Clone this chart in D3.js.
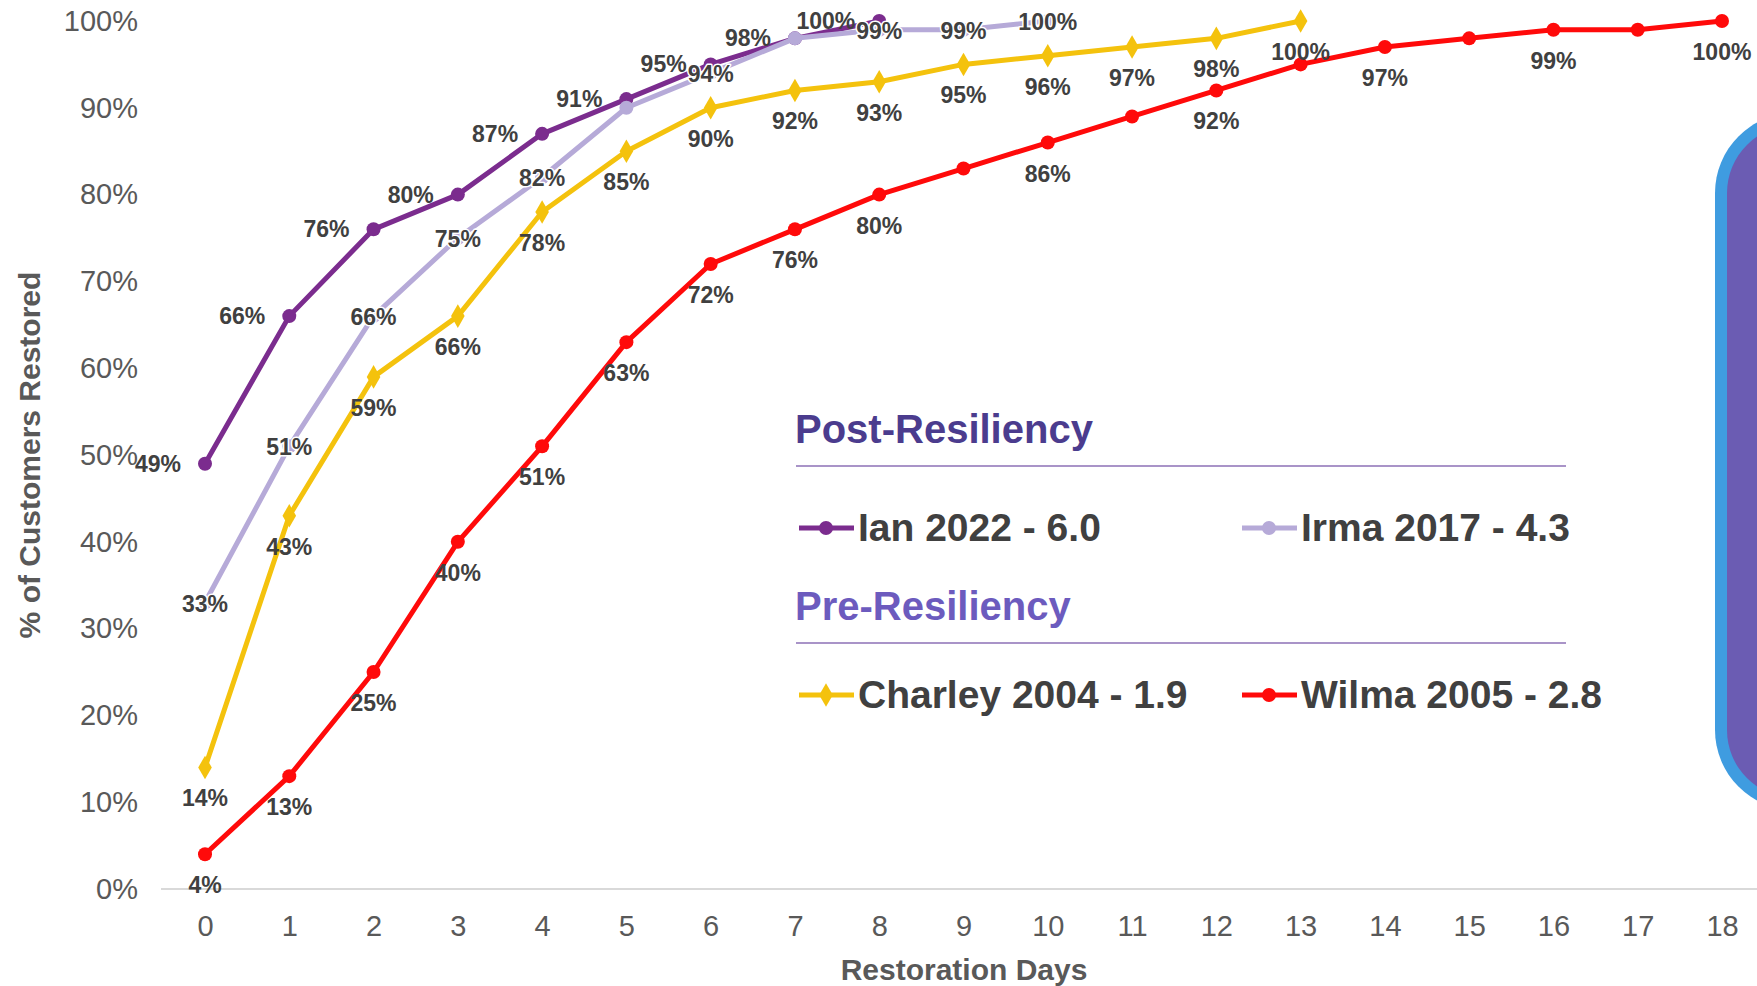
<!DOCTYPE html>
<html>
<head>
<meta charset="utf-8">
<script src="https://cdn.jsdelivr.net/npm/d3@7"></script>
<style>
  html, body { margin: 0; padding: 0; background: #ffffff; }
  svg { display: block; }
</style>
</head>
<body>
<svg id="chart" width="1757" height="986"></svg>
<script>
// ---------------- DATA ----------------
const days = [0,1,2,3,4,5,6,7,8,9,10,11,12,13,14,15,16,17,18];
const yTicks = [0,10,20,30,40,50,60,70,80,90,100];

const ianValues     = [49,66,76,80,87,91,95,98,100];
const irmaValues    = [33,51,66,75,82,90,94,98,99,99,100];
const charleyValues = [14,43,59,66,78,85,90,92,93,95,96,97,98,100];
const wilmaValues   = [4,13,25,40,51,63,72,76,80,83,86,89,92,95,97,98,99,99,100];

const seriesNames = ["Ian 2022 - 6.0", "Irma 2017 - 4.3", "Charley 2004 - 1.9", "Wilma 2005 - 2.8"];
const groupTitles = ["Post-Resiliency", "Pre-Resiliency"];
// day indices whose data label is not shown in the original
const irmaHiddenLabels  = [5,7];
const wilmaHiddenLabels = [9,11,13,15,17];

const xTitle = "Restoration Days";
const yTitle = "% of Customers Restored";

// ---------------- STYLE ----------------
const series = [
  {name: seriesNames[0], values: ianValues,     color: "#7B2C8E", shape: "circle",  label: "left",   hidden: []},
  {name: seriesNames[1], values: irmaValues,    color: "#B6AAD8", shape: "circle",  label: "center", hidden: irmaHiddenLabels},
  {name: seriesNames[2], values: charleyValues, color: "#F4C20D", shape: "diamond", label: "below",  hidden: []},
  {name: seriesNames[3], values: wilmaValues,   color: "#FF0A0A", shape: "circle",  label: "below",  hidden: wilmaHiddenLabels}
];

const FONT = "'Liberation Sans', Arial, sans-serif";
const svg = d3.select("#chart");

const x = d3.scaleLinear().domain([d3.min(days), d3.max(days)]).range([205, 1722]);
const y = d3.scaleLinear().domain([0, 100]).range([889, 21]);

// baseline (plot-area bottom)
svg.append("line")
  .attr("x1", x(0) - 44).attr("x2", 1757)
  .attr("y1", y(0)).attr("y2", y(0))
  .attr("stroke", "#D9D9D9").attr("stroke-width", 2);

// Y axis
const yAxis = svg.append("g")
  .attr("transform", "translate(150,0)")
  .call(d3.axisLeft(y).tickValues(yTicks).tickFormat(d => d + "%").tickSize(0).tickPadding(12));
yAxis.select(".domain").remove();
yAxis.selectAll("text")
  .attr("font-family", FONT).attr("font-size", 29).attr("fill", "#595959");

// X axis
const xAxis = svg.append("g")
  .attr("transform", `translate(0,${y(0)})`)
  .call(d3.axisBottom(x).tickValues(days).tickFormat(d3.format("d")).tickSize(0).tickPadding(26));
xAxis.select(".domain").remove();
xAxis.selectAll("text")
  .attr("font-family", FONT).attr("font-size", 29).attr("fill", "#595959");

// Axis titles
svg.append("text")
  .attr("x", 964).attr("y", 980)
  .attr("text-anchor", "middle")
  .attr("font-family", FONT).attr("font-weight", "bold").attr("font-size", 30)
  .attr("fill", "#595959")
  .text(xTitle);

svg.append("text")
  .attr("transform", "translate(40,455) rotate(-90)")
  .attr("text-anchor", "middle")
  .attr("font-family", FONT).attr("font-weight", "bold").attr("font-size", 30)
  .attr("fill", "#595959")
  .text(yTitle);

// Lines and markers
const line = d3.line().x((d, i) => x(days[i])).y(d => y(d));
const diamond = d3.symbol(d3.symbolDiamond, 160);

function drawMarker(g, shape, color, cx, cy) {
  if (shape === "diamond") {
    g.append("path").attr("d", diamond()).attr("transform", `translate(${cx},${cy})`).attr("fill", color);
  } else {
    g.append("circle").attr("cx", cx).attr("cy", cy).attr("r", 7).attr("fill", color);
  }
}

series.forEach(s => {
  const g = svg.append("g");
  g.append("path")
    .datum(s.values)
    .attr("d", line)
    .attr("fill", "none")
    .attr("stroke", s.color)
    .attr("stroke-width", 5)
    .attr("stroke-linejoin", "round");
  s.values.forEach((v, i) => drawMarker(g, s.shape, s.color, x(days[i]), y(v)));
});

// Data labels
series.forEach(s => {
  const g = svg.append("g");
  s.values.forEach((v, i) => {
    if (s.hidden.includes(i)) return;
    const t = g.append("text")
      .attr("font-family", FONT).attr("font-weight", "bold").attr("font-size", 23)
      .attr("fill", "#404040")
      .text(v + "%");
    if (s.label === "left") {
      t.attr("x", x(days[i]) - 24).attr("y", y(v) + 8).attr("text-anchor", "end");
    } else if (s.label === "center") {
      t.attr("x", x(days[i])).attr("y", y(v) + 9).attr("text-anchor", "middle")
       .attr("stroke", "#ffffff").attr("stroke-width", 3).attr("paint-order", "stroke")
       .attr("stroke-linejoin", "round");
    } else {
      t.attr("x", x(days[i])).attr("y", y(v) + 39).attr("text-anchor", "middle");
    }
  });
});

// Legend
const lg = svg.append("g");
const groupColors = ["#4B3C8E", "#6C5BBE"];
const titleBaselines = [443, 620];
const ruleYs = [466, 643];
groupTitles.forEach((t, k) => {
  lg.append("text")
    .attr("x", 795).attr("y", titleBaselines[k])
    .attr("font-family", FONT).attr("font-weight", "bold").attr("font-size", 40)
    .attr("fill", groupColors[k])
    .text(t);
  lg.append("line")
    .attr("x1", 796).attr("x2", 1566)
    .attr("y1", ruleYs[k]).attr("y2", ruleYs[k])
    .attr("stroke", "#A994C8").attr("stroke-width", 2);
});
const rowBaselines = [541, 708];
const colX = [799, 1242];
series.forEach((s, i) => {
  const row = Math.floor(i / 2), col = i % 2;
  const lx = colX[col], by = rowBaselines[row], cy = by - 13;
  lg.append("line")
    .attr("x1", lx).attr("x2", lx + 55)
    .attr("y1", cy).attr("y2", cy)
    .attr("stroke", s.color).attr("stroke-width", 5);
  drawMarker(lg, s.shape, s.color, lx + 27, cy);
  lg.append("text")
    .attr("x", lx + 59).attr("y", by)
    .attr("font-family", FONT).attr("font-weight", "bold").attr("font-size", 39)
    .attr("fill", "#404040")
    .text(s.name);
});

// Decorative rounded panel at the right edge (cut off)
svg.append("rect")
  .attr("x", 1715).attr("y", 113).attr("width", 220).attr("height", 697).attr("rx", 80)
  .attr("fill", "#3F9CE0");
svg.append("rect")
  .attr("x", 1727).attr("y", 125).attr("width", 220).attr("height", 673).attr("rx", 68)
  .attr("fill", "#6B5CB3");
</script>
</body>
</html>
